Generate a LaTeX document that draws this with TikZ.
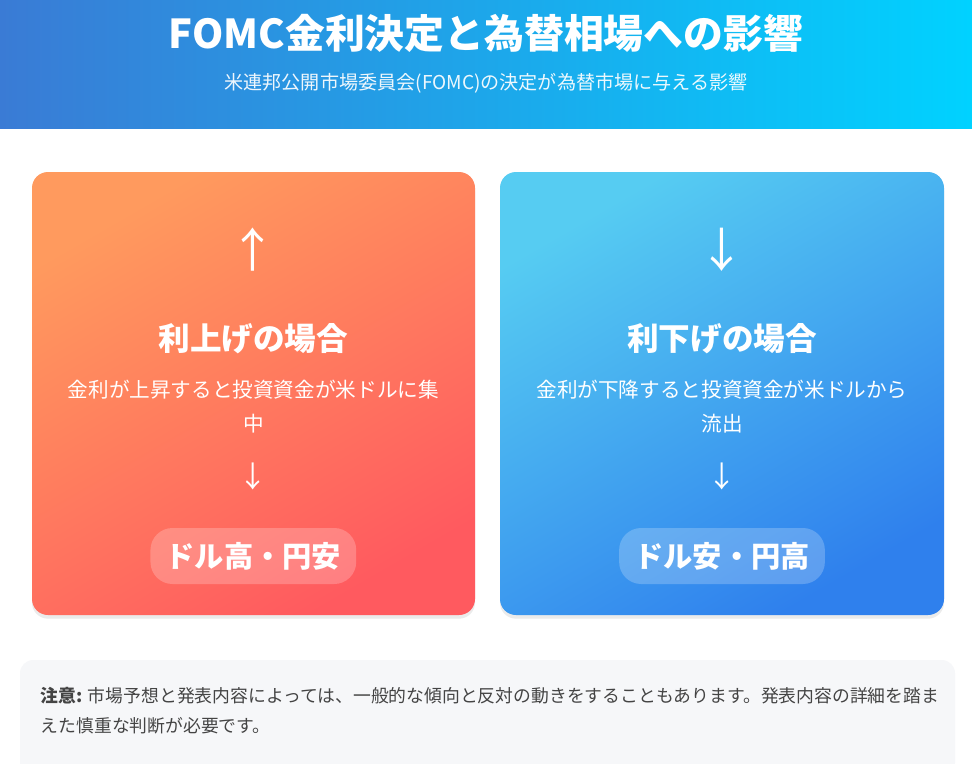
\documentclass[tikz,border=0pt]{standalone}
\usepackage{fontspec}
\setmainfont{Noto Sans CJK JP}
\usetikzlibrary{positioning}
\definecolor{hdrL}{HTML}{3A7BD5}
\definecolor{hdrR}{HTML}{00D2FF}
\definecolor{upA}{HTML}{FF9A5E}
\definecolor{upB}{HTML}{FF5A5F}
\definecolor{dnA}{HTML}{56CCF2}
\definecolor{dnB}{HTML}{2F80ED}
\definecolor{notebg}{HTML}{F6F7F9}
\definecolor{notetx}{HTML}{444444}
\tikzstyle{card}=[rounded corners=0.48cm]
\tikzstyle{pill}=[rounded corners=0.66cm, fill=white, fill opacity=0.22, text opacity=1, text=white,
  font=\fontsize{25}{25}\selectfont\bfseries, minimum height=1.68cm, inner xsep=0.45cm]
\tikzstyle{annot}=[text=white, align=center]
\newcommand{\drawcase}[6]
{
  % #1 centre x, #2 name, #3 arrow, #4 heading, #5 text, #6 result
  \node[annot, font=\fontsize{40}{40}\selectfont] (#2arr) at (#1,-7.5) {#3};
  \node[annot, font=\fontsize{27}{27}\selectfont\bfseries] (#2head) at (#1,-10.15) {#4};
  \node[annot, font=\fontsize{17.6}{29}\selectfont] (#2txt) at (#1,-12.2) {#5};
  \node[annot, font=\fontsize{25}{25}\selectfont] (#2dn) at (#1,-14.3) {↓};
  \node[pill] (#2res) at (#1,-16.68) {#6};
}
\begin{document}
\begin{tikzpicture}
  \useasboundingbox (0,0) rectangle (29.16,-22.89);
  \fill[white] (0,0) rectangle (29.16,-22.89);

  % header
  \shade[left color=hdrL, right color=hdrR] (0,0) rectangle (29.16,-3.84);
  \node[text=white, font=\fontsize{34}{34}\selectfont\bfseries] (title) at (14.58,-1.0) {FOMC金利決定と為替相場への影響};
  \node[text=white, font=\fontsize{16.3}{16.3}\selectfont, text opacity=0.92] (sub) at (14.58,-2.5) {米連邦公開市場委員会(FOMC)の決定が為替市場に与える影響};

  % cards
  \fill[black!8, card] (0.96,-5.26) rectangle (14.25,-18.56);
  \fill[black!8, card] (15.0,-5.26) rectangle (28.32,-18.56);
  \shade[card, shading=axis, top color=upA, bottom color=upB, shading angle=30] (0.96,-5.16) rectangle (14.25,-18.45);
  \shade[card, shading=axis, top color=dnA, bottom color=dnB, shading angle=30] (15.0,-5.16) rectangle (28.32,-18.45);

  \drawcase{7.6}{up}{↑}{利上げの場合}{金利が上昇すると投資資金が米ドルに集\\中}{ドル高・円安}
  \drawcase{21.66}{down}{↓}{利下げの場合}{金利が下降すると投資資金が米ドルから\\流出}{ドル安・円高}

  % note
  \fill[notebg, rounded corners=0.4cm] (0.6,-19.8) rectangle (28.65,-23.3);
  \node[text=notetx, font=\fontsize{15.2}{25}\selectfont, align=left, anchor=north west] (note) at (1.1,-20.5)
    {\textbf{注意:} 市場予想と発表内容によっては、一般的な傾向と反対の動きをすることもあります。発表内容の詳細を踏ま\\えた慎重な判断が必要です。};
\end{tikzpicture}
\end{document}
